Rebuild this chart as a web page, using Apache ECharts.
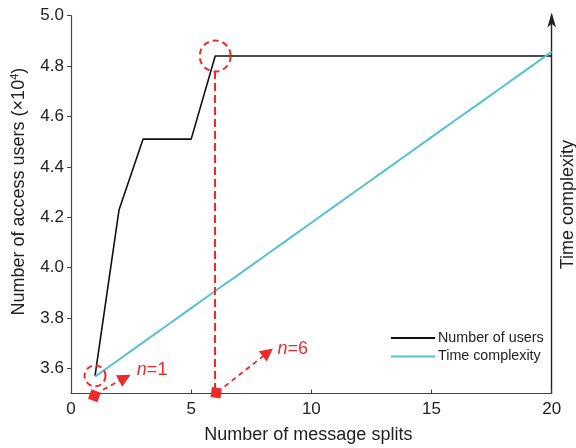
<!DOCTYPE html>
<html>
<head>
<meta charset="utf-8">
<script src="https://cdn.jsdelivr.net/npm/echarts@6/dist/echarts.min.js"></script>
<style>
  html, body { margin: 0; padding: 0; background: #fff; }
  #chart { width: 576px; height: 448px; }
</style>
</head>
<body>
<div id="chart"></div>
<script>
// Number of message splits n
const splits = [1, 2, 3, 4, 5, 6, 7, 8, 9, 10, 11, 12, 13, 14, 15, 16, 17, 18, 19, 20];
// Number of access users (x10^4)
const users = [3.57, 4.23, 4.51, 4.51, 4.51, 4.84, 4.84, 4.84, 4.84, 4.84,
               4.84, 4.84, 4.84, 4.84, 4.84, 4.84, 4.84, 4.84, 4.84, 4.84];
// Time complexity, drawn on the same vertical scale
const complexity = [3.567, 3.635, 3.703, 3.771, 3.839, 3.907, 3.974, 4.042, 4.110, 4.178,
                    4.246, 4.314, 4.382, 4.450, 4.518, 4.586, 4.653, 4.721, 4.789, 4.857];
const xTicks = [0, 5, 10, 15, 20];
const yTicks = [3.6, 3.8, 4.0, 4.2, 4.4, 4.6, 4.8, 5.0];

// Highlighted split counts and their labels
const highlightN = [1, 6];
const highlightText = ['=1', '=6'];
// Square markers on the axis, arrow starts and arrow heads, in data units
const markerAt = [[0.975, 3.491], [6.04, 3.503]];
const arrowTail = [[1.33, 3.515], [6.39, 3.528]];
const arrowHead = [[2.24, 3.562], [8.19, 3.663]];
const labelAt = [[2.74, 3.594], [8.59, 3.677]];

const RED = '#ec2b2b';
const CYAN = '#56c2cf';
const FONT = "'Liberation Sans', Arial, sans-serif";

const usersPairs = splits.map((n, i) => [n, users[i]]);
const complexityPairs = splits.map((n, i) => [n, complexity[i]]);
const circled = highlightN.map(n => [n, users[splits.indexOf(n)]]);

const chart = echarts.init(document.getElementById('chart'));
chart.setOption({
  animation: false,
  backgroundColor: '#fff',
  textStyle: { fontFamily: FONT },
  grid: { left: 71, right: 24.3, top: 15.7, bottom: 54.5, outerBoundsMode: 'none', containLabel: false },
  legend: {
    orient: 'vertical',
    left: 391, top: 331,
    padding: 0,
    itemGap: 4.5,
    itemWidth: 44, itemHeight: 2,
    icon: 'rect',
    textStyle: { fontSize: 14.3, color: '#222', fontFamily: FONT, padding: [0, 0, 0, -2] },
    data: ['Number of users', 'Time complexity']
  },
  xAxis: {
    type: 'value',
    min: xTicks[0], max: xTicks[xTicks.length - 1], interval: 5,
    name: 'Number of message splits',
    nameLocation: 'middle', nameGap: 33,
    nameTextStyle: { fontSize: 18, color: '#222', fontFamily: FONT, padding: [0, 6, 0, 0] },
    axisLine: { lineStyle: { color: '#444', width: 1.2 } },
    axisTick: { inside: true, length: 4, lineStyle: { color: '#444' } },
    axisLabel: { fontSize: 17, color: '#222', margin: 7, fontFamily: FONT },
    splitLine: { show: false }
  },
  yAxis: [{
    type: 'value',
    min: 3.5, max: 5.0, interval: 0.2,
    name: 'Number of access users (×10{s|4})',
    nameLocation: 'middle', nameGap: 42,
    nameTextStyle: {
      fontSize: 18, color: '#222', fontFamily: FONT,
      padding: [0, 0, 0, 26],
      rich: { s: { fontSize: 11, verticalAlign: 'top', padding: [0, 0, 9, 0], fontFamily: FONT, color: '#222' } }
    },
    axisLine: { show: true, lineStyle: { color: '#444', width: 1.2 } },
    axisTick: { show: true, inside: false, length: 4, lineStyle: { color: '#444' }, customValues: yTicks },
    axisLabel: {
      fontSize: 17, color: '#222', margin: 7, fontFamily: FONT,
      customValues: yTicks,
      formatter: v => v.toFixed(1)
    },
    splitLine: { show: false }
  }, {
    type: 'value',
    position: 'right',
    min: 3.5, max: 5.0,
    name: 'Time complexity',
    nameLocation: 'middle', nameGap: 7, nameRotate: 90,
    nameTextStyle: { fontSize: 18, color: '#222', fontFamily: FONT },
    axisLine: {
      show: true,
      symbol: ['none', 'arrow'],
      symbolSize: [6.5, 15],
      symbolOffset: [0, 3.2],
      lineStyle: { color: '#222', width: 1.4 }
    },
    axisTick: { show: false },
    axisLabel: { show: false },
    splitLine: { show: false }
  }],
  series: [{
    name: 'Number of users',
    type: 'line',
    data: usersPairs,
    showSymbol: false,
    color: '#111',
    lineStyle: { color: '#111', width: 1.6 },
    z: 3
  }, {
    name: 'Time complexity',
    type: 'line',
    data: complexityPairs,
    showSymbol: false,
    color: CYAN,
    lineStyle: { color: CYAN, width: 2 },
    z: 3
  }, {
    // dashed rings around the highlighted points
    name: 'highlight',
    type: 'scatter',
    data: circled,
    symbol: 'circle',
    symbolSize: (v, p) => (p.dataIndex === 0 ? 21 : 31),
    itemStyle: { color: 'rgba(0,0,0,0)', borderColor: RED, borderWidth: 2, borderType: [6, 4], opacity: 1 },
    silent: true,
    z: 4,
    markLine: {
      silent: true,
      symbol: ['none', 'none'],
      label: { show: false },
      lineStyle: { color: RED, width: 2, type: [8, 4] },
      data: [[{ coord: [highlightN[1], users[splits.indexOf(6)] - 0.06] }, { coord: [highlightN[1], 3.5] }]]
    }
  }, {
    // markers at the axis with dashed arrows pointing to the labels
    name: 'markers',
    type: 'scatter',
    data: markerAt.map((p, i) => ({ value: p, symbolRotate: i === 0 ? -20 : -8 })),
    symbol: 'rect',
    symbolSize: 10,
    itemStyle: { color: RED, opacity: 1 },
    clip: false,
    silent: true,
    z: 5,
    markLine: {
      silent: true,
      symbol: ['none', 'triangle'],
      symbolSize: 13,
      label: { show: false },
      lineStyle: { color: RED, width: 1.8, type: [5, 4] },
      itemStyle: { color: RED },
      data: arrowTail.map((p, i) => [{ coord: p }, { coord: arrowHead[i] }])
    },
    markPoint: {
      silent: true,
      symbol: 'circle',
      symbolSize: 0,
      label: {
        show: true,
        position: 'right',
        distance: 0,
        formatter: p => '{i|n}{t|' + p.name + '}',
        rich: {
          i: { fontSize: 18, fontStyle: 'italic', color: RED, fontFamily: FONT },
          t: { fontSize: 18, color: RED, fontFamily: FONT }
        }
      },
      data: labelAt.map((p, i) => ({ coord: p, name: highlightText[i] }))
    }
  }]
});
</script>
</body>
</html>
